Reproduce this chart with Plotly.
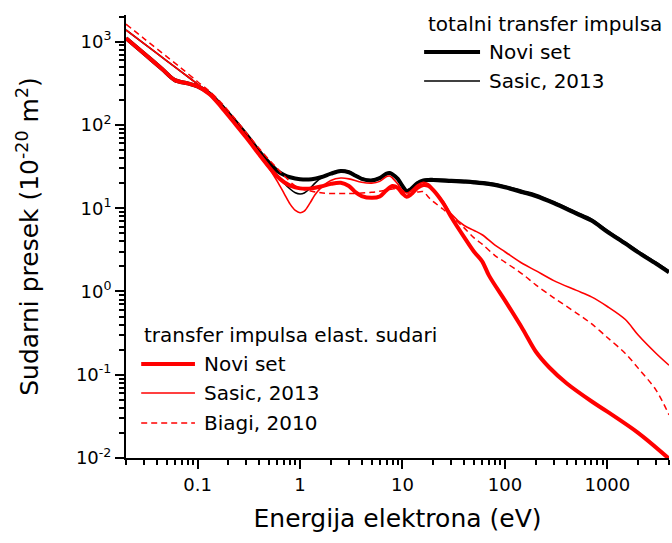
import plotly.graph_objects as go

# Momentum-transfer cross sections (units of 1e-20 m^2) versus electron energy (eV)

# Total momentum transfer, new set
e_tot_novi = [0.02, 0.03, 0.045, 0.06, 0.08, 0.1, 0.13, 0.17, 0.22, 0.3, 0.4, 0.5, 0.6,
              0.7, 0.8, 1.0, 1.3, 1.6, 2.0, 2.5, 3.0, 3.5, 4.0, 5.0, 6.0, 7.0, 7.5, 8.0,
              9.0, 10, 11, 12, 14, 16, 18, 20, 30, 40, 50, 70, 100, 150, 200, 300, 500,
              700, 1000, 1500, 2000, 3000, 4000]
s_tot_novi = [1100, 720, 470, 345, 315, 290, 240, 172, 120, 76, 48, 35, 28,
              25, 23.5, 22.3, 22.3, 23.5, 26, 28, 27, 24.5, 22.5, 21.5, 23, 26, 26.5, 25.5,
              22.5, 18.5, 16, 16.8, 20, 21.5, 21.8, 21.8, 21.2, 20.8, 20.4, 19.5, 17.8, 15.5, 14, 11.5, 8.6,
              7.1, 5.2, 3.75, 2.95, 2.15, 1.7]

# Total momentum transfer, Sasic 2013
e_tot_sasic = [0.02, 0.03, 0.05, 0.07, 0.1, 0.13, 0.17, 0.22, 0.3, 0.4, 0.5, 0.6, 0.7,
               0.8, 0.9, 1.0, 1.1, 1.25, 1.4, 1.6, 2.0, 2.5, 3.0, 3.5, 4.0, 5.0, 6.0, 7.0,
               7.5, 8.0, 9.0, 10, 11, 12, 14, 16, 18, 20, 30, 40, 50, 70, 100, 150, 200,
               300, 500, 700, 1000, 1500, 2000, 3000, 4000]
s_tot_sasic = [1380, 947, 588, 431, 309, 240, 170, 118, 75, 47, 33, 25, 20,
               17, 15.3, 14.8, 15.2, 17.3, 20, 23, 26.5, 28.5, 27.5, 25, 23, 22, 23.5, 26.5,
               27, 26, 23, 19, 16.5, 17.2, 20.5, 22, 22.6, 22.6, 22.0, 21.6, 21.2, 20.3, 18.6, 16.2, 14.7,
               12.0, 9.0, 7.45, 5.45, 3.93, 3.06, 2.24, 1.76]

# Elastic momentum transfer, new set
e_el_novi = [0.02, 0.03, 0.045, 0.06, 0.08, 0.1, 0.13, 0.17, 0.22, 0.3, 0.4, 0.5, 0.6,
             0.7, 0.8, 1.0, 1.3, 1.6, 2.0, 2.5, 3.0, 3.5, 4.0, 5.0, 6.0, 7.0, 8.0, 9.0,
             10, 11, 12, 14, 16, 18, 20, 25, 30, 40, 50, 60, 70, 100, 150, 200, 270,
             400, 700, 1000, 2000, 4000]
s_el_novi = [1100, 720, 470, 345, 315, 290, 235, 165, 112, 70, 44, 31, 24,
             20.5, 18.7, 17.3, 17.3, 18.2, 19.6, 20.2, 18.5, 15.5, 14.0, 13.3, 13.8, 16.5, 18.5, 17.5,
             15, 13.7, 14.5, 17.5, 19, 18.5, 16.5, 11.5, 7.8, 4.5, 3.0, 2.3, 1.55, 0.78, 0.35, 0.19, 0.123,
             0.079, 0.048, 0.036, 0.02, 0.0098]

# Elastic momentum transfer, Sasic 2013
e_el_sasic = [0.02, 0.03, 0.05, 0.07, 0.1, 0.13, 0.17, 0.22, 0.3, 0.4, 0.5, 0.6, 0.7,
              0.8, 0.9, 1.0, 1.1, 1.25, 1.4, 1.6, 2.0, 2.5, 3.0, 4.0, 5.0, 6.0, 7.0, 7.5,
              8.0, 9.0, 10, 11, 12, 14, 16, 18, 20, 25, 30, 40, 50, 60, 80, 100, 150,
              200, 300, 500, 700, 1000, 1500, 2000, 3000, 4000]
s_el_sasic = [1380, 947, 588, 431, 309, 240, 165, 112, 70, 43, 30, 21, 15,
              11.2, 9.4, 8.8, 9.2, 11.5, 14.5, 17.5, 21.5, 23, 22.5, 20.5, 20, 21, 24, 24.3,
              23, 19.5, 16.3, 15.2, 16, 19, 20.5, 19.5, 17, 12, 8.5, 6.2, 5.4, 4.8, 3.6, 3.0, 2.15,
              1.78, 1.35, 1.03, 0.86, 0.66, 0.46, 0.3, 0.18, 0.13]

# Elastic momentum transfer, Biagi 2010
e_el_biagi = [0.02, 0.03, 0.05, 0.07, 0.1, 0.13, 0.17, 0.22, 0.3, 0.4, 0.5, 0.6, 0.7,
              0.85, 1.0, 1.3, 1.6, 2.0, 3.0, 4.0, 5.0, 6.0, 7.0, 8.0, 9.0, 10, 11, 12,
              14, 16, 18, 20, 25, 30, 40, 50, 60, 80, 100, 150, 200, 300, 500, 700,
              1000, 1500, 2000, 3000, 4000]
s_el_biagi = [1620, 1089, 660, 475, 330, 255, 185, 128, 80, 52, 38, 30, 24.5,
              19.5, 17.3, 16, 15.3, 15, 15, 15.2, 15.5, 16, 16.5, 17, 17.2, 16.3, 15, 14.7,
              15.6, 15.8, 13.5, 12, 9.7, 8.0, 5.8, 4.4, 3.7, 2.7, 2.25, 1.6, 1.2, 0.84, 0.55, 0.41,
              0.28, 0.18, 0.12, 0.065, 0.033]

x_tick_vals = [0.1, 1, 10, 100, 1000]
x_tick_text = ["0.1", "1", "10", "100", "1000"]
y_tick_vals = [0.01, 0.1, 1, 10, 100, 1000]
y_tick_text = ["10<sup>-2</sup>", "10<sup>-1</sup>", "10<sup>0</sup>",
               "10<sup>1</sup>", "10<sup>2</sup>", "10<sup>3</sup>"]

FONT = "DejaVu Sans, Arial, sans-serif"
RED = "#ff0000"
BLACK = "#000000"


def minor_ticks(lo_exp, hi_exp, lo, hi):
    vals = []
    for k in range(lo_exp, hi_exp + 1):
        for m in range(2, 10):
            v = m * 10.0 ** k
            if lo <= v <= hi:
                vals.append(v)
    return vals


fig = go.Figure()

series = [
    (e_tot_sasic, s_tot_sasic, BLACK, 1.6, "solid"),
    (e_tot_novi, s_tot_novi, BLACK, 4.0, "solid"),
    (e_el_biagi, s_el_biagi, RED, 1.5, "6px,4px"),
    (e_el_sasic, s_el_sasic, RED, 1.6, "solid"),
    (e_el_novi, s_el_novi, RED, 4.0, "solid"),
]
for ex, sy, col, w, dash in series:
    fig.add_trace(go.Scatter(
        x=ex, y=sy, mode="lines",
        line=dict(color=col, width=w, dash=dash, shape="spline", smoothing=0.9),
        showlegend=False, hoverinfo="skip",
    ))

# Legend blocks drawn as sample lines plus labels (paper coordinates)
legend_shapes = [
    (0.549, 0.652, 0.9165, BLACK, 4.0, "solid"),
    (0.549, 0.652, 0.851, BLACK, 1.6, "solid"),
    (0.028, 0.127, 0.2122, RED, 4.0, "solid"),
    (0.028, 0.127, 0.1467, RED, 1.6, "solid"),
    (0.028, 0.127, 0.079, RED, 1.5, "6px,4px"),
]
for x0, x1, yy, col, w, dash in legend_shapes:
    fig.add_shape(type="line", xref="paper", yref="paper", x0=x0, x1=x1, y0=yy, y1=yy,
                  line=dict(color=col, width=w, dash=dash))

legend_text = [
    (0.5525, 0.9797, "totalni transfer impulsa"),
    (0.665, 0.9165, "Novi set"),
    (0.665, 0.851, "Sasic, 2013"),
    (0.0295, 0.2777, "transfer impulsa elast. sudari"),
    (0.140, 0.2122, "Novi set"),
    (0.140, 0.1467, "Sasic, 2013"),
    (0.140, 0.079, "Biagi, 2010"),
]
for xx, yy, txt in legend_text:
    fig.add_annotation(x=xx, y=yy, xref="paper", yref="paper", text=txt, showarrow=False,
                       xanchor="left", yanchor="middle",
                       font=dict(family=FONT, size=20, color=BLACK))

axis_common = dict(
    type="log", showline=True, linewidth=2, linecolor=BLACK, mirror=False,
    ticks="outside", ticklen=9, tickwidth=1.5, tickcolor=BLACK,
    showgrid=False, zeroline=False,
    tickfont=dict(family=FONT, size=18, color=BLACK),
)

fig.update_layout(
    width=672, height=543,
    margin=dict(l=126, r=3, t=15, b=85),
    paper_bgcolor="white", plot_bgcolor="white",
    font=dict(family=FONT, color=BLACK),
    xaxis=dict(
        **axis_common,
        range=[-1.69897, 3.60206],
        tickmode="array", tickvals=x_tick_vals, ticktext=x_tick_text,
        minor=dict(ticks="outside", ticklen=5, tickwidth=1.5, tickcolor=BLACK,
                   tickmode="array", tickvals=minor_ticks(-2, 3, 0.02, 4000)),
        title=dict(text="Energija elektrona (eV)", font=dict(family=FONT, size=25), standoff=16),
        automargin=False,
    ),
    yaxis=dict(
        **axis_common,
        range=[-2, 3.32],
        tickmode="array", tickvals=y_tick_vals, ticktext=y_tick_text,
        minor=dict(ticks="outside", ticklen=5, tickwidth=1.5, tickcolor=BLACK,
                   tickmode="array", tickvals=minor_ticks(-2, 3, 0.01, 2100)),
        title=dict(text="Sudarni presek (10<sup>-20</sup> m<sup>2</sup>)",
                   font=dict(family=FONT, size=25), standoff=30),
        automargin=False,
    ),
)

fig.write_html("out.html")
